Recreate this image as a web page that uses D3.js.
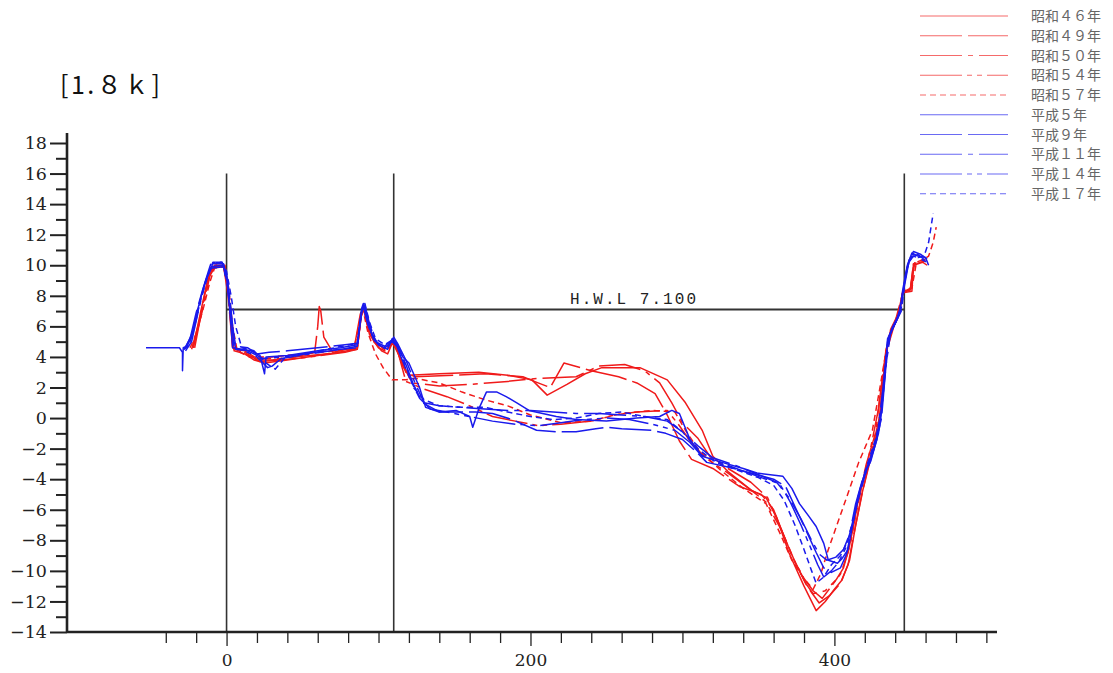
<!DOCTYPE html>
<html>
<head>
<meta charset="utf-8">
<script src="https://cdn.jsdelivr.net/npm/d3@7/dist/d3.min.js"></script>
<style>
  html, body { margin: 0; padding: 0; background: #fff; }
  svg { display: block; }
</style>
</head>
<body>
<svg id="chart" width="1113" height="673"></svg>
<script>
// Cross-section survey profiles, station 1.8k: [distance (m), elevation (m)]
const s46 = [[-22,4.6],[-18,6.5],[-13,8.8],[-9,9.9],[-2,9.9],[1,8.5],[3,6.0],[5,4.4],[12,4.2],[18,3.8],[25,3.6],[40,3.8],[60,4.1],[80,4.4],[86,4.5],[89,7.0],[90,7.3],[93,6.0],[97,5.0],[102,4.4],[106,4.2],[109,4.9],[112,4.5],[116,3.4],[120,2.8],[140,2.9],[166,3.0],[185,2.8],[201,2.5],[211,1.5],[224,2.2],[236,2.9],[247,3.3],[272,3.3],[290,2.5],[302,1.0],[313,-0.8],[320,-2.5],[330,-3.5],[345,-4.7],[355,-5.2],[362,-6.5],[370,-8.8],[380,-11.0],[388,-12.6],[394,-12.0],[400,-11.2],[405,-10.6],[410,-9.3],[414,-7.0],[418,-5.0],[424,-2.6],[429,-0.6],[433,3.5],[437,5.8],[442,6.8],[445,8.3],[450,8.4],[452,10.0],[458,10.2],[461,10.0]];
const s49 = [[-23,4.5],[-18,6.3],[-12,9.2],[-8,10.0],[-2,10.0],[1,8.0],[4,4.6],[12,4.3],[20,3.8],[30,3.8],[45,4.0],[58,4.3],[60,6.0],[61,7.3],[62,7.0],[64,5.3],[70,4.3],[84,4.6],[88,6.8],[90,7.2],[94,5.5],[100,4.6],[106,4.3],[109,5.0],[113,4.2],[118,3.0],[124,2.7],[150,2.8],[170,2.9],[195,2.7],[205,2.3],[213,2.0],[222,3.6],[240,3.1],[258,2.7],[270,2.3],[282,1.6],[290,0.2],[298,-1.5],[306,-2.7],[320,-3.3],[338,-4.5],[352,-5.0],[360,-6.0],[366,-7.5],[374,-9.4],[382,-11.0],[390,-12.1],[397,-11.6],[404,-10.8],[409,-9.6],[414,-7.0],[419,-4.6],[424,-2.4],[430,0.2],[435,4.6],[440,6.3],[445,8.2],[450,8.5],[453,10.2],[460,10.4]];
const s50 = [[-22,4.6],[-16,7.0],[-11,9.3],[-7,10.0],[-1,10.0],[2,7.5],[5,4.5],[12,4.4],[20,3.9],[35,3.9],[55,4.1],[75,4.3],[86,4.6],[89,7.0],[91,7.3],[94,5.8],[99,4.9],[105,4.4],[109,5.1],[113,4.3],[117,3.3],[122,2.3],[140,2.1],[160,2.2],[185,2.4],[205,2.6],[230,2.7],[245,3.4],[262,3.5],[275,3.1],[285,2.3],[293,1.0],[300,-0.3],[310,-1.3],[318,-2.5],[330,-3.3],[345,-4.2],[356,-5.2],[363,-6.8],[372,-9.0],[381,-10.8],[386,-11.5],[394,-11.3],[401,-10.6],[406,-9.8],[411,-8.0],[416,-5.2],[421,-3.0],[427,-1.0],[432,3.0],[436,5.4],[442,6.6],[445,8.2],[451,8.3],[452,10.0],[459,10.3]];
const s54 = [[-21,4.6],[-16,7.2],[-11,9.4],[-7,10.0],[-1,9.9],[2,7.8],[4,4.6],[10,4.3],[22,3.7],[35,3.8],[55,4.0],[78,4.3],[86,4.5],[89,6.9],[90,7.2],[93,6.0],[97,5.0],[104,4.5],[109,5.0],[112,4.6],[115,3.5],[118,2.4],[130,1.9],[145,1.4],[160,0.8],[175,0.1],[190,-0.2],[205,-0.5],[220,-0.4],[240,-0.2],[255,0.2],[270,0.4],[290,0.5],[298,-0.5],[305,-1.5],[315,-2.6],[330,-3.6],[345,-4.7],[355,-5.5],[365,-7.3],[373,-9.2],[380,-10.5],[386,-11.3],[392,-11.8],[398,-11.0],[404,-10.2],[409,-8.8],[414,-6.4],[419,-4.0],[424,-1.9],[429,0.6],[434,4.5],[438,5.8],[443,6.9],[445,8.2],[450,8.4],[452,10.1],[460,10.3]];
const s57 = [[-24,4.6],[-20,5.5],[-15,7.3],[-11,8.9],[-8,9.8],[-2,9.9],[1,8.8],[4,6.0],[7,4.4],[15,4.0],[30,4.0],[50,4.2],[72,4.4],[84,4.6],[88,6.5],[90,7.0],[93,5.6],[98,4.2],[103,3.3],[109,2.5],[118,2.5],[124,2.6],[140,2.3],[155,1.7],[170,1.2],[185,0.8],[200,0.2],[220,-0.3],[240,-0.2],[260,0.3],[280,0.5],[295,0.4],[302,-0.8],[310,-2.0],[325,-3.4],[340,-4.6],[355,-5.6],[364,-7.5],[372,-9.3],[380,-10.5],[386,-11.2],[391,-10.2],[396,-8.6],[402,-6.9],[408,-5.2],[416,-2.9],[425,-0.8],[430,2.0],[434,4.4],[438,5.8],[442,6.8],[446,8.4],[451,8.5],[454,10.2],[459,10.4],[462,10.6],[465,11.5],[467,12.5]];
const h05 = [[-53,4.6],[-31,4.6],[-29,4.3],[-29,3.1],[-28.5,4.6],[-26,4.7],[-23,5.3],[-19,7.1],[-15,8.6],[-11,9.7],[-9,10.1],[-2,10.1],[0,9.3],[2,7.2],[4,4.6],[10,4.5],[16,4.4],[22,4.1],[25,2.9],[26,4.0],[40,4.1],[60,4.4],[75,4.6],[86,4.8],[89,7.2],[90,7.5],[92,6.9],[95,5.6],[100,4.8],[106,4.5],[109,5.2],[112,4.9],[116,4.0],[120,3.6],[127,2.0],[131,0.7],[140,0.4],[151,0.5],[160,0.1],[162,-0.6],[166,0.6],[171,1.7],[178,1.7],[184,1.4],[191,1.0],[199,0.5],[217,0.1],[230,-0.1],[250,-0.2],[270,0.0],[285,0.1],[293,0.5],[298,0.3],[305,-1.4],[313,-2.5],[326,-2.9],[340,-3.3],[349,-3.6],[366,-3.8],[372,-4.6],[377,-5.6],[383,-6.4],[388,-7.1],[393,-8.2],[396,-9.3],[402,-9.5],[405,-9.2],[409,-8.6],[412,-7.0],[415,-5.4],[420,-3.6],[424,-2.8],[429,-1.0],[432,1.5],[435,5.0],[438,5.9],[443,6.9],[445,8.4],[448,10.0],[451,10.8],[455,10.6],[460,10.5],[462,10.0]];
const h09 = [[-28,4.5],[-24,5.2],[-20,6.9],[-16,8.3],[-12,9.6],[-10,10.2],[-3,10.2],[0,9.4],[2,8.0],[4,6.0],[6,4.7],[14,4.6],[20,4.2],[28,4.3],[40,4.4],[60,4.6],[78,4.8],[86,4.9],[89,7.0],[91,7.4],[94,6.2],[98,5.0],[104,4.7],[109,5.1],[113,4.6],[118,3.5],[123,2.2],[129,1.0],[140,0.4],[151,0.4],[164,0.4],[175,0.3],[188,-0.1],[204,-0.8],[217,-0.9],[230,-0.9],[243,-0.7],[251,-0.6],[260,-0.7],[280,-0.8],[289,-1.0],[300,-1.4],[309,-2.2],[316,-2.9],[330,-3.2],[345,-3.6],[360,-4.0],[368,-4.5],[375,-6.0],[382,-7.5],[388,-8.8],[393,-9.8],[398,-10.1],[404,-9.8],[408,-8.9],[411,-7.4],[415,-5.6],[420,-3.8],[425,-2.2],[430,-0.5],[433,2.5],[436,5.3],[440,6.2],[444,7.2],[446,8.8],[449,10.3],[452,10.9],[457,10.7],[461,10.4]];
const h11 = [[-27,4.4],[-23,5.0],[-19,6.8],[-14,8.9],[-10,9.9],[-3,10.0],[0,9.1],[3,6.5],[6,4.5],[14,4.4],[24,3.9],[38,4.0],[58,4.3],[76,4.5],[86,4.7],[89,7.1],[90,7.4],[93,6.3],[97,5.1],[103,4.6],[108,4.8],[110,5.3],[113,4.8],[118,3.8],[124,2.3],[130,1.0],[140,0.8],[155,0.7],[170,0.6],[185,0.5],[200,0.5],[215,0.4],[230,0.3],[245,0.3],[260,0.2],[275,0.1],[290,-0.2],[300,-0.9],[310,-1.8],[320,-2.6],[335,-3.1],[350,-3.7],[362,-4.2],[370,-5.2],[378,-6.6],[385,-8.0],[390,-8.9],[395,-9.3],[401,-9.1],[406,-8.6],[410,-7.6],[414,-5.6],[418,-4.2],[423,-3.0],[428,-1.4],[432,2.0],[435,5.2],[439,6.0],[444,7.0],[446,8.6],[449,10.2],[452,10.6],[457,10.4],[461,10.2]];
const h14 = [[-27,4.6],[-22,5.7],[-18,7.4],[-13,9.2],[-10,9.8],[-2,9.9],[1,8.6],[3,6.8],[5,4.6],[12,4.4],[20,4.0],[27,3.3],[30,3.4],[36,3.9],[55,4.2],[75,4.5],[86,4.6],[89,7.0],[90,7.3],[93,6.1],[97,5.1],[103,4.5],[109,5.0],[112,4.7],[116,3.7],[121,2.5],[127,1.3],[134,0.6],[145,0.4],[160,0.1],[175,-0.2],[190,-0.4],[205,-0.5],[220,-0.3],[235,-0.1],[250,0.0],[265,-0.1],[280,-0.4],[295,-0.8],[305,-1.6],[312,-2.4],[322,-2.8],[338,-3.4],[352,-3.9],[364,-4.3],[371,-5.5],[378,-7.0],[384,-8.4],[389,-9.6],[393,-10.4],[398,-10.0],[403,-9.4],[408,-8.4],[412,-6.8],[416,-5.0],[420,-3.6],[426,-2.0],[431,0.0],[434,3.5],[437,5.6],[441,6.4],[445,7.8],[447,9.5],[450,10.5],[455,10.7],[460,10.3]];
const h17 = [[-28,4.5],[-25,4.7],[-21,6.0],[-17,7.8],[-12,9.4],[-9,10.2],[-3,10.2],[0,9.6],[3,8.0],[6,6.0],[10,4.6],[18,4.4],[26,3.6],[32,3.2],[38,3.9],[56,4.3],[76,4.7],[86,4.9],[89,7.1],[91,7.5],[94,6.3],[98,5.2],[104,4.8],[109,5.1],[113,4.7],[118,3.4],[123,2.0],[130,1.2],[140,0.8],[155,0.7],[170,0.7],[185,0.4],[200,0.1],[215,-0.1],[230,0.0],[245,0.3],[260,0.4],[275,0.1],[290,-0.1],[300,-0.9],[310,-2.0],[322,-2.9],[336,-3.4],[350,-3.9],[360,-4.4],[367,-5.4],[374,-7.0],[380,-8.6],[385,-10.0],[388,-10.8],[393,-10.4],[398,-9.6],[404,-9.0],[409,-8.0],[413,-6.4],[417,-4.6],[422,-2.9],[427,-1.4],[431,0.5],[434,4.0],[437,5.6],[442,6.6],[445,8.2],[448,9.9],[451,10.6],[455,10.5],[459,10.6],[462,11.5],[465,13.4]];

const surveyNames = ["昭和４６年","昭和４９年","昭和５０年","昭和５４年","昭和５７年","平成５年","平成９年","平成１１年","平成１４年","平成１７年"];
const surveyData  = [s46, s49, s50, s54, s57, h05, h09, h11, h14, h17];
const dashStyles  = [null, "42,6", "42,6,5,6", "42,5,5,5,5,5", "6,4", null, "42,6", "42,6,5,6", "42,5,5,5,5,5", "6,4"];
const eraColors   = ["#f01a1a","#f01a1a","#f01a1a","#f01a1a","#f01a1a","#1a1aec","#1a1aec","#1a1aec","#1a1aec","#1a1aec"];

const yMajorTicks = d3.range(-14, 19, 2);
const yMinorTicks = d3.range(-13, 18, 2);
const xTicks = d3.range(-40, 501, 20);
const xLabelTicks = [0, 200, 400];
const sectionLines = [0, 110, 446];   // left bank, berm edge, right bank
const hwl = 7.1;
const hwlLabel = "H.W.L 7.100";
const stationLabel = "[1.８ｋ]";

const svg = d3.select("#chart");
const x = d3.scaleLinear().domain([-105, 507]).range([67, 997]);
const y = d3.scaleLinear().domain([-14, 18]).range([632, 143]);

const axisColor = "#222";
const serif = "'DejaVu Serif','Liberation Serif',serif";

// station title
svg.append("text")
  .attr("x", 60).attr("y", 94)
  .attr("font-family", "'Noto Sans CJK JP','DejaVu Sans',sans-serif")
  .attr("font-size", 25)
  .attr("fill", "#111")
  .attr("textLength", 100)
  .attr("lengthAdjust", "spacing")
  .text(stationLabel);

// vertical reference lines
svg.append("g").selectAll("line").data(sectionLines).join("line")
  .attr("x1", d => x(d)).attr("x2", d => x(d))
  .attr("y1", y(16)).attr("y2", y(-14))
  .attr("stroke", "#333").attr("stroke-width", 1.6);

// high water level
svg.append("line")
  .attr("x1", x(sectionLines[0])).attr("x2", x(sectionLines[2]))
  .attr("y1", y(hwl)).attr("y2", y(hwl))
  .attr("stroke", "#333").attr("stroke-width", 2);
svg.append("text")
  .attr("x", 570).attr("y", y(hwl) - 6)
  .attr("font-family", "'Liberation Mono','DejaVu Sans Mono',monospace")
  .attr("font-size", 16)
  .attr("fill", "#222")
  .attr("textLength", 126)
  .attr("lengthAdjust", "spacing")
  .text(hwlLabel);

// profiles
const line = d3.line().x(d => x(d[0])).y(d => y(d[1]));
const plot = svg.append("g").attr("fill", "none");
surveyData.forEach((pts, i) => {
  plot.append("path")
    .attr("d", line(pts))
    .attr("stroke", eraColors[i])
    .attr("stroke-width", 1.5)
    .attr("stroke-linejoin", "round")
    .attr("stroke-dasharray", dashStyles[i]);
});

// y axis
const yAxisG = svg.append("g").attr("transform", `translate(${x(-105)},0)`);
yAxisG.call(d3.axisLeft(y).tickValues(yMajorTicks).tickSize(17).tickPadding(3)
  .tickFormat(d => d < 0 ? "−" + Math.abs(d) : d));
yAxisG.append("g").call(d3.axisLeft(y).tickValues(yMinorTicks).tickSize(11).tickFormat(""))
  .select(".domain").remove();
yAxisG.select(".domain").remove();
yAxisG.selectAll(".tick line").attr("stroke", axisColor).attr("stroke-width", 2);
yAxisG.selectAll(".tick text").attr("font-family", serif).attr("font-size", 17.5).attr("fill", "#222");
yAxisG.append("line").attr("x1", 0).attr("x2", 0).attr("y1", 133).attr("y2", y(-14) + 1)
  .attr("stroke", axisColor).attr("stroke-width", 2.6);

// x axis
const xAxisG = svg.append("g").attr("transform", `translate(0,${y(-14)})`);
xAxisG.call(d3.axisBottom(x).tickValues(xTicks)
  .tickSize(11).tickPadding(8)
  .tickFormat(d => xLabelTicks.includes(d) ? d : ""));
xAxisG.select(".domain").remove();
xAxisG.selectAll(".tick line")
  .attr("y2", d => xLabelTicks.includes(d) ? 14 : 11)
  .attr("stroke", axisColor).attr("stroke-width", 1.3);
xAxisG.selectAll(".tick text").attr("font-family", serif).attr("font-size", 17).attr("fill", "#222")
  .attr("y", 22);
xAxisG.append("line").attr("x1", x(-105)).attr("x2", x(507)).attr("y1", 0).attr("y2", 0)
  .attr("stroke", axisColor).attr("stroke-width", 2.4);

// legend
const legend = svg.append("g");
surveyNames.forEach((name, i) => {
  const ly = 16 + i * 19.75;
  legend.append("line")
    .attr("x1", 920).attr("x2", 1008).attr("y1", ly).attr("y2", ly)
    .attr("stroke", eraColors[i]).attr("stroke-opacity", 0.65).attr("stroke-width", 1.2)
    .attr("stroke-dasharray", dashStyles[i]);
  legend.append("text")
    .attr("x", 1031).attr("y", ly + 5)
    .attr("font-family", "'Noto Sans CJK JP',sans-serif")
    .attr("font-size", 14)
    .attr("fill", "#666")
    .text(name);
});
</script>
</body>
</html>
